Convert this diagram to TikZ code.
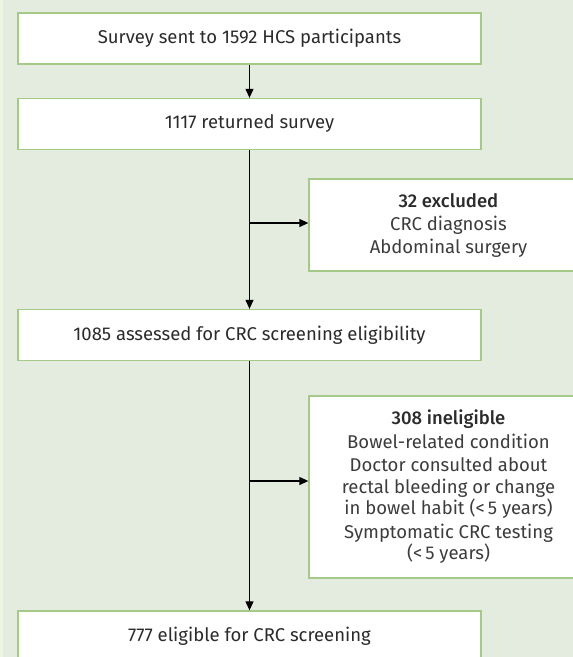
\documentclass[tikz,border=0pt]{standalone}
\usepackage{fontspec}
\setmainfont{Fira Sans}[BoldFont={Fira Sans Medium}]
\usetikzlibrary{arrows.meta}
\definecolor{sfondo}{HTML}{E3ECDF}
\definecolor{striscia}{HTML}{EAF6E0}
\definecolor{bordo}{HTML}{A5CA88}
\definecolor{testo}{HTML}{2B2B2B}
\definecolor{voce}{HTML}{3C3C3C}
\tikzset{
    box/.style={draw=bordo, line width=1.3pt, fill=white, text=testo, align=center,
        inner sep=0pt, font=\fontsize{18.5}{21.5}\selectfont},
    freccia/.style={line width=1.1pt, -{Triangle[length=9pt,width=8pt]}},
}
\begin{document}
\begin{tikzpicture}[x=1pt,y=-1pt]
    % Sfondo
    \useasboundingbox (0,0) rectangle (573,657);
    \clip (0,0) rectangle (573,657);
    \fill[sfondo] (0,0) rectangle (573,657);
    \fill[striscia] (0,0) rectangle (3,657);

    % Riquadri principali
    \node[box, minimum width=463pt, minimum height=51pt] (inviato) at (249.5,38.5)
        {Survey sent to 1592 HCS participants};
    \node[box, minimum width=463pt, minimum height=51pt] (ritornato) at (249.5,124)
        {1117 returned survey};
    \node[box, minimum width=463pt, minimum height=51pt] (valutati) at (249.5,335)
        {1085 assessed for CRC screening eligibility};
    \node[box, minimum width=463pt, minimum height=51pt] (eleggibili) at (249.5,636.5)
        {777 eligible for CRC screening};

    % Riquadri laterali
    \node[box, minimum width=279pt, minimum height=92pt] (esclusi) at (448.5,225)
        {{\bfseries 32 excluded}\\[1.5pt]
        \color{voce}CRC diagnosis\\[1.5pt]
        \color{voce}Abdominal surgery};
    \node[box, minimum width=279pt, minimum height=182pt] (noneleggibili) at (448.5,487)
        {{\bfseries 308 ineligible}\\[2pt]
        \color{voce}Bowel-related condition\\[2pt]
        \color{voce}Doctor consulted about\\
        \color{voce}rectal bleeding or change\\
        \color{voce}in bowel habit (<\,5 years)\\[2pt]
        \color{voce}Symptomatic CRC testing\\
        \color{voce}(<\,5 years)};

    % Frecce
    \coordinate (ramo1) at (249.5,223);
    \coordinate (ramo2) at (249.5,481);
    \draw[freccia] (inviato) -- (ritornato);
    \draw[freccia] (ritornato) -- (valutati);
    \draw[freccia] (ramo1) -- (ramo1 -| esclusi.west);
    \draw[freccia] (valutati) -- (eleggibili);
    \draw[freccia] (ramo2) -- (ramo2 -| noneleggibili.west);
\end{tikzpicture}
\end{document}
